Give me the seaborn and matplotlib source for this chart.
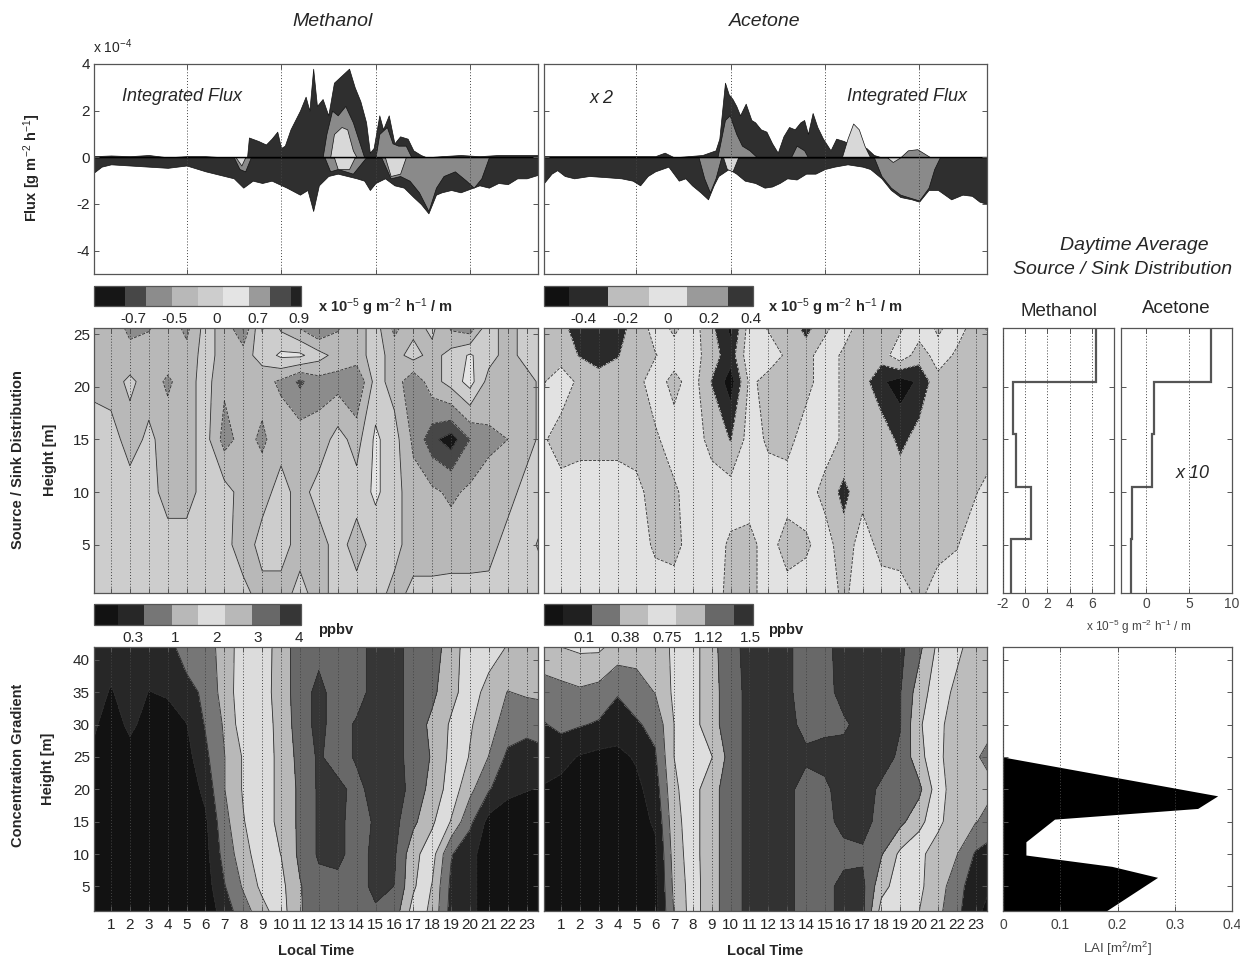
import numpy as np
import matplotlib
matplotlib.use("Agg")
import matplotlib.pyplot as plt
import seaborn as sns

# ---------------------------------------------------------------- data
hours = list(range(25))                      # grid columns, local time [h]
hour_ticks = list(range(1, 24))
conc_heights = [1, 5, 10, 15, 20, 25, 30, 35, 42]     # concentration grid rows [m]
src_heights = [0, 5, 10, 15, 20.5, 23, 26]            # source/sink grid rows [m]

# methanol concentration [ppbv], rows = conc_heights, cols = hours
meoh_conc = [
    [-0.8, -0.8, -0.8, -0.8, -0.8, -0.8, -0.8, -0.1, 0.6, 1.3, 1.9, 2.8, 3.2, 3.2, 3.2, 3.4, 3.2, 1.9, 1.4, 0.0, -0.2, -0.7, -0.8, -0.8, -0.8],
    [-0.8, -0.8, -0.8, -0.8, -0.8, -0.8, -0.7, 0.2, 1.0, 1.7, 2.0, 2.8, 3.3, 3.3, 3.2, 3.7, 3.5, 2.3, 1.5, 0.1, -0.2, -0.7, -0.8, -0.8, -0.8],
    [-0.8, -0.8, -0.8, -0.8, -0.8, -0.8, -0.6, 0.5, 1.3, 1.9, 2.2, 3.0, 3.6, 3.7, 3.2, 3.7, 3.6, 2.4, 1.8, 0.3, -0.2, -0.7, -0.8, -0.8, -0.8],
    [-0.8, -0.8, -0.8, -0.8, -0.8, -0.8, -0.5, 0.7, 1.5, 2.0, 2.3, 3.0, 3.6, 3.7, 3.2, 3.6, 3.7, 3.0, 2.3, 1.5, 0.4, -0.6, -0.8, -0.8, -0.8],
    [-0.8, -0.8, -0.8, -0.8, -0.8, -0.8, -0.2, 0.9, 1.6, 2.0, 2.3, 3.0, 3.6, 3.7, 3.3, 3.8, 3.8, 3.3, 2.6, 1.9, 1.1, 0.3, -0.2, -0.35, -0.45],
    [-0.5, -0.8, -0.7, -0.8, -0.8, -0.6, 0.1, 0.9, 1.6, 2.0, 2.3, 3.1, 3.6, 3.2, 3.6, 3.8, 3.8, 3.2, 2.8, 2.0, 1.5, 0.9, 0.1, -0.1, 0.0],
    [-0.2, -0.8, -0.2, -0.7, -0.7, -0.4, 0.3, 1.0, 1.9, 1.9, 2.4, 3.2, 3.7, 3.2, 3.6, 3.8, 3.8, 3.2, 2.7, 2.1, 1.6, 1.2, 0.6, 0.5, 0.7],
    [0.0, -0.45, 0.0, -0.4, -0.3, 0.0, 0.4, 1.2, 1.9, 1.9, 2.5, 3.2, 3.7, 3.2, 3.2, 3.8, 3.8, 3.2, 3.0, 2.4, 1.85, 1.3, 0.9, 1.0, 1.0],
    [0.0, 0.0, 0.0, 0.0, 0.0, 0.6, 0.6, 1.2, 1.85, 1.85, 2.5, 3.2, 3.3, 3.2, 3.2, 3.8, 3.8, 3.2, 3.2, 2.5, 1.85, 1.85, 1.5, 1.2, 1.2],
]
# acetone concentration [ppbv]
acet_conc = [
    [-0.32, -0.32, -0.32, -0.32, -0.32, -0.32, -0.32, 0.3, 0.68, 1.0, 1.2, 1.43, 1.43, 1.43, 1.2, 1.25, 1.43, 1.4, 0.7, 0.68, 0.55, 0.35, 0.1, -0.2, -0.3],
    [-0.32, -0.32, -0.32, -0.32, -0.32, -0.32, -0.3, 0.35, 0.68, 1.0, 1.2, 1.43, 1.43, 1.43, 1.2, 1.25, 1.43, 1.4, 0.9, 0.68, 0.6, 0.4, 0.15, -0.15, -0.25],
    [-0.32, -0.32, -0.32, -0.32, -0.32, -0.32, -0.28, 0.4, 0.7, 1.0, 1.2, 1.43, 1.43, 1.43, 1.2, 1.3, 1.25, 1.3, 1.1, 0.75, 0.6, 0.45, 0.3, 0.0, -0.15],
    [-0.32, -0.32, -0.32, -0.32, -0.32, -0.32, -0.2, 0.45, 0.7, 1.0, 1.2, 1.43, 1.43, 1.43, 1.2, 1.25, 1.43, 1.43, 1.25, 1.15, 0.9, 0.6, 0.42, 0.3, 0.2],
    [-0.25, -0.3, -0.32, -0.32, -0.32, -0.3, -0.1, 0.5, 0.7, 1.0, 1.2, 1.43, 1.43, 1.43, 1.2, 1.3, 1.43, 1.43, 1.3, 1.2, 1.15, 0.65, 0.42, 0.35, 0.3],
    [-0.1, -0.15, -0.25, -0.3, -0.3, -0.2, 0.0, 0.55, 0.7, 0.8, 1.2, 1.43, 1.43, 1.43, 1.4, 1.4, 1.43, 1.43, 1.43, 1.3, 0.9, 0.6, 0.42, 0.3, 0.25],
    [0.0, 0.1, 0.05, 0.0, -0.1, 0.0, 0.1, 0.55, 0.7, 1.0, 1.2, 1.43, 1.43, 1.43, 1.25, 1.3, 1.3, 1.43, 1.43, 1.35, 0.85, 0.6, 0.45, 0.35, 0.3],
    [0.2, 0.2, 0.25, 0.2, 0.05, 0.15, 0.3, 0.6, 0.7, 1.0, 1.2, 1.43, 1.43, 1.4, 1.2, 1.25, 1.43, 1.43, 1.43, 1.35, 0.95, 0.65, 0.5, 0.42, 0.4],
    [0.42, 0.55, 0.6, 0.6, 0.45, 0.42, 0.4, 0.6, 0.7, 1.0, 1.25, 1.43, 1.43, 1.4, 1.2, 1.28, 1.43, 1.43, 1.43, 1.4, 1.15, 0.75, 0.6, 0.45, 0.42],
]
# methanol source / sink [x1e-5 g m-2 h-1 / m], rows = src_heights
meoh_src = [
    [0.1, 0.1, 0.1, 0.1, 0.1, 0.1, 0.1, 0.1, 0.1, -0.1, -0.1, 0.1, -0.1, 0.1, 0.1, 0.1, -0.1, 0.1, 0.1, 0.1, 0.1, 0.1, 0.1, 0.1, 0.1],
    [0.1, 0.1, 0.1, 0.1, 0.1, 0.1, 0.1, 0.1, -0.15, 0.1, 0.1, -0.1, -0.1, 0.1, -0.1, 0.1, 0.1, -0.15, -0.15, -0.12, -0.12, -0.1, 0.1, 0.1, -0.1],
    [0.1, 0.1, 0.1, 0.1, -0.1, -0.1, 0.1, 0.1, -0.1, -0.1, 0.1, -0.1, 0.1, 0.1, 0.1, 0.3, 0.1, -0.15, -0.2, -0.3, -0.2, -0.15, -0.1, 0.1, 0.1],
    [0.1, 0.1, -0.1, 0.05, -0.1, -0.1, 0.1, -0.35, -0.15, -0.3, -0.1, -0.1, -0.15, 0.1, -0.1, 0.3, 0.1, -0.3, -0.65, -0.8, -0.5, -0.3, -0.25, -0.1, 0.1],
    [-0.05, -0.1, 0.05, -0.1, -0.3, -0.1, 0.1, -0.2, -0.1, -0.15, -0.3, -0.55, -0.35, -0.35, -0.5, 0.1, -0.1, -0.45, -0.1, 0.1, 0.35, -0.1, -0.2, -0.1, 0.1],
    [-0.1, -0.1, -0.15, -0.1, -0.1, -0.15, 0.1, -0.1, -0.1, 0.1, 0.3, 0.3, 0.1, -0.1, -0.1, 0.1, -0.1, 0.1, -0.1, 0.1, 0.28, 0.1, -0.1, 0.1, 0.1],
    [-0.1, -0.1, -0.35, -0.3, -0.1, -0.35, 0.1, -0.1, -0.6, 0.3, -0.1, -0.35, -0.6, -0.3, -0.1, 0.1, -0.35, -0.1, 0.1, -0.35, -0.5, 0.1, -0.1, 0.1, 0.1],
]
# acetone source / sink [x1e-5 g m-2 h-1 / m]
acet_src = [
    [0, 0, 0, 0, 0, 0, 0, 0, 0, 0, -0.15, -0.15, 0, 0, 0, 0, -0.12, 0, 0, 0, -0.12, 0, 0, 0, 0],
    [0, 0, 0, 0, 0, 0, -0.12, -0.15, 0, 0, -0.12, -0.15, 0, -0.18, -0.12, 0, -0.2, 0, -0.15, -0.18, -0.2, -0.15, -0.1, 0, 0],
    [0, 0, 0, 0, 0, -0.05, -0.15, -0.12, 0, 0, 0, 0, 0, 0, 0, -0.15, -0.35, -0.15, -0.2, -0.15, -0.2, -0.15, -0.2, -0.1, 0],
    [-0.05, -0.2, -0.15, -0.15, -0.15, -0.15, -0.12, 0, 0, -0.15, -0.3, 0, -0.12, -0.15, 0, 0, -0.12, -0.25, -0.15, -0.35, -0.2, -0.15, -0.15, -0.12, -0.15],
    [-0.12, 0.05, -0.15, -0.2, -0.2, -0.15, 0, -0.15, 0, -0.3, -0.58, -0.05, -0.15, -0.12, -0.15, 0, -0.12, -0.2, -0.45, -0.57, -0.45, -0.15, -0.15, -0.12, -0.35],
    [-0.15, -0.2, -0.3, -0.38, -0.3, -0.2, -0.1, 0, 0, -0.2, -0.4, 0.05, 0, -0.12, -0.15, 0, -0.12, -0.12, -0.2, 0.05, -0.2, 0, -0.12, -0.1, -0.12],
    [-0.15, -0.2, -0.5, -0.5, -0.4, -0.2, 0, -0.15, 0, -0.25, -0.55, 0, -0.12, -0.15, -0.4, -0.15, 0, -0.15, -0.12, -0.15, 0.05, -0.15, 0, -0.15, 0],
]

# integrated flux layers [x1e-4 g m-2 h-1], (local time, flux)
meoh_pos_dark = [(0.1, 0.05), (1, 0.08), (2, 0.05), (3, 0.1), (4, 0.0), (5, 0.05), (6, 0.05), (7, 0.0), (8.2, 0.0),
                 (8.3, 0.85), (8.8, 0.7), (9.2, 0.55), (9.5, 0.8), (9.8, 1.1), (10.0, 0.4), (10.2, 0.5), (10.5, 1.2),
                 (11.0, 2.0), (11.3, 2.6), (11.5, 2.0), (11.7, 3.8), (11.9, 2.2), (12.2, 2.5), (12.5, 1.8), (12.8, 3.2),
                 (13.2, 3.5), (13.6, 3.8), (13.9, 3.0), (14.2, 2.4), (14.5, 1.5), (14.7, 0.2), (14.9, 0.4), (15.2, 1.8),
                 (15.4, 1.2), (15.7, 1.8), (16.0, 0.6), (16.3, 0.9), (16.7, 0.8), (17.0, 0.3), (17.4, 0.1), (17.7, 0.0),
                 (18.5, 0.05), (19.5, 0.1), (20.5, 0.05), (21.5, 0.1), (22.5, 0.1), (23.6, 0.1)]
meoh_neg_dark = [(0.1, -0.65), (0.5, -0.4), (1, -0.3), (2, -0.35), (3, -0.4), (4, -0.45), (5, -0.35), (6, -0.6),
                 (7, -0.8), (7.5, -0.9), (8.0, -1.3), (8.5, -1.0), (9.0, -1.1), (9.5, -1.0), (10.3, -1.3), (11.0, -1.6),
                 (11.4, -1.4), (11.7, -2.3), (12.0, -1.2), (12.5, -0.8), (13.0, -0.7), (13.5, -0.8), (14.0, -0.9),
                 (14.4, -1.0), (14.7, -1.4), (15.0, -1.1), (15.5, -0.9), (16.0, -1.2), (16.5, -1.3), (17.0, -1.7),
                 (17.4, -2.0), (17.8, -2.4), (18.2, -1.6), (18.5, -1.5), (19.0, -1.4), (19.5, -1.5), (20.0, -1.35),
                 (20.5, -1.2), (21.0, -1.3), (21.5, -1.1), (22.0, -1.15), (22.5, -0.9), (23.0, -0.9), (23.6, -0.75)]
meoh_pos_gray = [(12.2, 0), (12.4, 1.0), (12.7, 2.0), (13.0, 1.8), (13.4, 2.2), (13.8, 1.5), (14.2, 0.5), (14.4, 0),
                 (15.0, 0), (15.2, 1.0), (15.6, 1.3), (15.9, 0.6), (16.2, 0.5), (16.6, 0.5), (16.9, 0)]
meoh_pos_light = [(12.6, 0), (12.8, 1.0), (13.2, 1.3), (13.5, 1.2), (13.8, 0.3), (14.0, 0)]
meoh_neg_gray = [(7.5, 0), (7.8, -0.5), (8.1, -0.6), (8.4, 0), (12.3, 0), (12.6, -0.6), (13.0, -0.5), (13.8, -0.7),
                 (14.2, -0.3), (14.5, 0), (15.3, 0), (15.8, -0.9), (16.3, -0.8), (16.8, -1.0), (17.3, -1.5),
                 (17.8, -2.3), (18.2, -1.3), (18.6, -0.8), (19.2, -0.6), (19.8, -1.0), (20.2, -1.3), (20.6, -0.9), (21.0, 0)]
meoh_neg_light = [(7.6, 0), (7.9, -0.35), (8.1, 0), (12.8, 0), (13.0, -0.5), (13.6, -0.5), (13.9, 0),
                  (15.5, 0), (15.8, -0.8), (16.3, -0.7), (16.6, 0)]

acet_pos_dark = [(0.1, 0.05), (3, 0.05), (6.0, 0.05), (6.5, 0.2), (7, 0.0), (8.5, 0.1), (9.2, 0.3), (9.4, 0.8),
                 (9.55, 2.0), (9.7, 3.2), (9.9, 2.7), (10.1, 2.5), (10.3, 2.2), (10.5, 1.8), (10.8, 2.3), (11.1, 1.6),
                 (11.3, 1.5), (11.6, 1.2), (11.9, 1.1), (12.2, 0.6), (12.5, 0.2), (12.8, 0.9), (13.1, 1.3), (13.4, 1.2),
                 (13.7, 1.5), (13.9, 1.6), (14.1, 1.0), (14.35, 1.9), (14.6, 1.3), (14.9, 0.8), (15.3, 0.3), (15.6, 0.8),
                 (16.0, 0.7), (16.5, 0.5), (17.2, 0.4), (17.6, 0.1), (18.0, 0.0), (23.6, 0.0)]
acet_pos_gray = [(9.3, 0), (9.5, 0.8), (9.7, 1.6), (9.95, 1.8), (10.3, 1.0), (10.6, 0.5), (11.0, 0.3), (11.4, 0),
                 (13.2, 0), (13.5, 0.5), (13.9, 0.3), (14.1, 0), (19.0, 0), (19.4, 0.3), (19.9, 0.35), (20.3, 0.15), (20.6, 0)]
acet_pos_light = [(15.9, 0), (16.2, 0.8), (16.5, 1.45), (16.8, 1.2), (17.1, 0.5), (17.4, 0)]
acet_neg_dark = [(0.1, -1.1), (0.5, -0.7), (0.8, -0.55), (1.2, -0.8), (1.7, -0.9), (2.5, -0.8), (3.4, -0.85),
                 (4.2, -0.9), (4.8, -1.0), (5.2, -1.2), (5.6, -0.8), (6.0, -0.6), (6.7, -0.4), (7.25, -1.0), (7.6, -0.9),
                 (7.95, -1.2), (8.4, -1.5), (8.8, -1.8), (9.1, -1.2), (9.35, -0.8), (9.9, -0.5), (10.3, -0.7),
                 (10.75, -1.0), (11.3, -1.1), (11.8, -1.3), (12.2, -1.25), (12.6, -1.1), (13.0, -0.9), (13.5, -0.95),
                 (14.0, -0.7), (14.5, -0.7), (15.0, -0.5), (15.5, -0.4), (16.2, -0.3), (17.0, -0.4), (17.4, -0.5),
                 (18.0, -0.9), (18.5, -1.4), (19.0, -1.7), (19.6, -1.8), (20.0, -1.9), (20.5, -1.4), (21.0, -1.4),
                 (21.7, -1.8), (22.3, -1.6), (22.8, -1.65), (23.2, -1.9), (23.6, -2.0)]
acet_neg_gray = [(8.3, 0), (8.6, -0.9), (8.9, -1.5), (9.2, -0.9), (9.5, 0), (17.6, 0), (18.0, -0.8), (18.5, -1.3),
                 (19.0, -1.6), (19.6, -1.75), (20.0, -1.85), (20.5, -1.3), (20.8, -0.5), (21.1, 0)]
acet_neg_light = [(9.6, 0), (9.8, -0.5), (10.1, -0.6), (10.4, 0), (18.3, 0), (18.6, -0.2), (19.0, 0)]

# daytime average source / sink profiles (layer edges in m, values x1e-5)
profile_edges = [0.4, 5.5, 10.5, 15.5, 20.5, 25.6]
meoh_profile = [-1.25, 0.55, -0.85, -1.07, 6.4]
acet_profile = [-1.76, -1.67, 0.7, 0.9, 7.5]

# leaf area index profile
lai_heights = [1.2, 6.4, 8.1, 9.85, 11.9, 15.4, 17.05, 19.0, 25.0]
lai_values = [0.18, 0.27, 0.19, 0.04, 0.04, 0.09, 0.34, 0.375, 0.0]

# contour levels / greys / colour-bar labels
meoh_conc_levels = [-0.95, -0.38, 0.25, 0.92, 1.54, 2.19, 2.85, 3.51, 4.02]
meoh_conc_colors = ['#121212', '#272727', '#767676', '#b8b8b8', '#dcdcdc', '#b8b8b8', '#686868', '#363636']
meoh_conc_labels = ['0.3', '1', '2', '3', '4']
acet_conc_levels = [-0.41, -0.23, 0.03, 0.29, 0.55, 0.81, 1.08, 1.34, 1.52]
acet_conc_colors = ['#121212', '#202020', '#747474', '#bcbcbc', '#dedede', '#bcbcbc', '#686868', '#323232']
acet_conc_labels = ['0.1', '0.38', '0.75', '1.12', '1.5']
meoh_src_levels = [-1.0, -0.7, -0.5, -0.25, 0, 0.25, 0.5, 0.7, 0.9, 1.0]
meoh_src_colors = ['#161616', '#474747', '#8c8c8c', '#b8b8b8', '#cdcdcd', '#e4e4e4', '#9a9a9a', '#4a4a4a', '#222222']
meoh_src_labels = ['-0.7', '-0.5', '0', '0.7', '0.9']
acet_src_levels = [-0.6, -0.48, -0.29, -0.09, 0.1, 0.3, 0.42]
acet_src_colors = ['#111111', '#2a2a2a', '#bdbdbd', '#e2e2e2', '#9a9a9a', '#363636']
acet_src_labels = ['-0.4', '-0.2', '0', '0.2', '0.4']
# the colour-bar annotations sit at evenly spaced points along each bar, as in the figure
label_fractions = [0.19, 0.39, 0.59, 0.79, 0.99]

# ---------------------------------------------------------------- style
sns.set_theme(style='ticks')
plt.rcParams['font.family'] = ['Liberation Sans', 'DejaVu Sans']
plt.rcParams['mathtext.fontset'] = 'custom'
plt.rcParams['mathtext.rm'] = 'Liberation Sans'
plt.rcParams['mathtext.it'] = 'Liberation Sans:italic'
plt.rcParams['mathtext.bf'] = 'Liberation Sans:bold'
plt.rcParams['axes.edgecolor'] = '#555555'
plt.rcParams['axes.linewidth'] = 0.9
plt.rcParams['axes.unicode_minus'] = False

W, H = 1240, 958
fig = plt.figure(figsize=(W / 100, H / 100), dpi=100)
fig.patch.set_facecolor('white')


def box(x0, y0, x1, y1):
    return [x0 / W, 1 - y1 / H, (x1 - x0) / W, (y1 - y0) / H]


def frame(ax, labelsize=11, color='#555555'):
    ax.tick_params(direction='in', top=True, right=True, length=3.5, width=0.7,
                   color=color, labelsize=labelsize, pad=3)
    for s in ax.spines.values():
        s.set_color(color)
        s.set_linewidth(0.9)


def dotted_grid(ax):
    ax.grid(True, axis='x', linestyle=(0, (1, 2)), color='#444444', linewidth=0.7)
    ax.grid(False, axis='y')
    ax.set_axisbelow(False)


def layer(ax, pts, color):
    t, v = zip(*pts)
    ax.fill_between(t, 0, v, facecolor=color, edgecolor='#111111', linewidth=0.5)


def flux_panel(box_px, layers, show_labels):
    ax = fig.add_axes(box(*box_px))
    for pts, col in layers:
        layer(ax, pts, col)
    ax.axhline(0, color='black', linewidth=1.0)
    ax.set_xlim(0.1, 23.6)
    ax.set_ylim(-5, 4)
    ax.set_xticks([5, 10, 15, 20])
    ax.set_yticks([-4, -2, 0, 2, 4])
    ax.tick_params(labelbottom=False, labelleft=show_labels)
    frame(ax)
    dotted_grid(ax)
    return ax


def field_panel(box_px, data, heights, levels, colors, ylim, yticks, bottom_labels, left_labels):
    ax = fig.add_axes(box(*box_px))
    z = np.array(data, dtype=float)
    cs = ax.contourf(hours, heights, z, levels=levels, colors=colors)
    ax.contour(hours, heights, z, levels=levels[1:-1], colors='#2e2e2e', linewidths=0.6)
    ax.set_xlim(0.1, 23.6)
    ax.set_ylim(*ylim)
    ax.set_xticks(hour_ticks)
    ax.set_yticks(yticks)
    ax.tick_params(labelbottom=bottom_labels, labelleft=left_labels)
    frame(ax)
    dotted_grid(ax)
    return ax, cs


def colorbar(cs, box_px, levels, labels):
    cax = fig.add_axes(box(*box_px))
    cb = fig.colorbar(cs, cax=cax, orientation='horizontal', spacing='proportional')
    lo, hi = levels[0], levels[-1]
    cb.set_ticks([lo + f * (hi - lo) for f in label_fractions])
    cb.set_ticklabels(labels)
    cb.ax.tick_params(length=0, labelsize=11, pad=4)
    cb.outline.set_edgecolor('#555555')
    cb.outline.set_linewidth(0.9)
    return cb


# ---------------------------------------------------------------- top row: integrated flux
ax_fm = flux_panel((94, 64, 538, 274),
                   [(meoh_pos_dark, '#2f2f2f'), (meoh_neg_dark, '#2f2f2f'),
                    (meoh_pos_gray, '#8a8a8a'), (meoh_neg_gray, '#8a8a8a'),
                    (meoh_pos_light, '#d8d8d8'), (meoh_neg_light, '#d8d8d8')], True)
ax_fm.text(0.063, 0.845, 'Integrated Flux', transform=ax_fm.transAxes, fontsize=13,
           style='italic', ha='left', va='center')
ax_fa = flux_panel((544, 64, 987, 274),
                   [(acet_pos_dark, '#2f2f2f'), (acet_neg_dark, '#2f2f2f'),
                    (acet_pos_gray, '#8a8a8a'), (acet_neg_gray, '#8a8a8a'),
                    (acet_pos_light, '#d8d8d8'), (acet_neg_light, '#d8d8d8')], False)
ax_fa.text(0.955, 0.845, 'Integrated Flux', transform=ax_fa.transAxes, fontsize=13,
           style='italic', ha='right', va='center')
ax_fa.text(0.13, 0.835, 'x 2', transform=ax_fa.transAxes, fontsize=13,
           style='italic', ha='center', va='center')

# ---------------------------------------------------------------- middle row: source / sink
ax_sm, cs_sm = field_panel((94, 328, 538, 593), meoh_src, src_heights, meoh_src_levels,
                           meoh_src_colors, (0.4, 25.6), [5, 10, 15, 20, 25], False, True)
ax_sa, cs_sa = field_panel((544, 328, 987, 593), acet_src, src_heights, acet_src_levels,
                           acet_src_colors, (0.4, 25.6), [5, 10, 15, 20, 25], False, False)
colorbar(cs_sm, (94, 286, 301, 306), meoh_src_levels, meoh_src_labels)
colorbar(cs_sa, (544, 286, 753, 306), acet_src_levels, acet_src_labels)

# ---------------------------------------------------------------- bottom row: concentration
ax_cm, cs_cm = field_panel((94, 647, 538, 911), meoh_conc, conc_heights, meoh_conc_levels,
                           meoh_conc_colors, (1.2, 42), [5, 10, 15, 20, 25, 30, 35, 40], True, True)
ax_ca, cs_ca = field_panel((544, 647, 987, 911), acet_conc, conc_heights, acet_conc_levels,
                           acet_conc_colors, (1.2, 42), [5, 10, 15, 20, 25, 30, 35, 40], True, False)
colorbar(cs_cm, (94, 604, 301, 625), meoh_conc_levels, meoh_conc_labels)
colorbar(cs_ca, (544, 604, 753, 625), acet_conc_levels, acet_conc_labels)
for ax in (ax_cm, ax_ca):
    ax.set_xticklabels([str(h) for h in hour_ticks])
    ax.tick_params(axis='x', pad=5)
    ax.set_xlabel('Local Time', fontsize=10.5, fontweight='bold', labelpad=9)

# ---------------------------------------------------------------- right column: profiles
ax_pm = fig.add_axes(box(1003, 328, 1114, 593))
ax_pm.stairs(meoh_profile, profile_edges, orientation='horizontal', baseline=None,
             color='#555555', linewidth=1.6)
ax_pm.set_xlim(-2, 8)
ax_pm.set_xticks([-2, 0, 2, 4, 6])
ax_pm.set_ylim(0.4, 25.6)
ax_pm.set_yticks([5, 10, 15, 20])
ax_pm.tick_params(labelleft=False)
frame(ax_pm, labelsize=10)
ax_pm.tick_params(labelcolor='#444444')
dotted_grid(ax_pm)
ax_pm.set_title('Methanol', fontsize=13.5, pad=9)

ax_pa = fig.add_axes(box(1121, 328, 1232, 593))
ax_pa.stairs(acet_profile, profile_edges, orientation='horizontal', baseline=None,
             color='#555555', linewidth=1.6)
ax_pa.set_xlim(-2.95, 10)
ax_pa.set_xticks([0, 5, 10])
ax_pa.set_ylim(0.4, 25.6)
ax_pa.set_yticks([5, 10, 15, 20])
ax_pa.tick_params(labelleft=False)
frame(ax_pa, labelsize=10)
ax_pa.tick_params(labelcolor='#444444')
dotted_grid(ax_pa)
ax_pa.set_title('Acetone', fontsize=13.5, pad=11)
ax_pa.text(0.65, 0.45, 'x 10', transform=ax_pa.transAxes, fontsize=13, style='italic',
           ha='center', va='center')

ax_lai = fig.add_axes(box(1003, 647, 1232, 911))
ax_lai.fill_betweenx(lai_heights, 0, lai_values, color='black', linewidth=0)
ax_lai.set_xlim(0, 0.4)
ax_lai.set_xticks([0, 0.1, 0.2, 0.3, 0.4])
ax_lai.set_xticklabels(['0', '0.1', '0.2', '0.3', '0.4'])
ax_lai.set_ylim(1.2, 42)
ax_lai.set_yticks([5, 10, 15, 20, 25, 30, 35, 40])
ax_lai.tick_params(labelleft=False)
frame(ax_lai, labelsize=10)
ax_lai.tick_params(labelcolor='#444444', axis='x', pad=5)
dotted_grid(ax_lai)
ax_lai.set_xlabel(r'LAI [m$^2$/m$^2$]', fontsize=9.5, color='#444444', labelpad=6)

# ---------------------------------------------------------------- figure texts
fig.text(333 / W, 1 - 22 / H, 'Methanol', fontsize=14, style='italic', ha='center', va='center')
fig.text(765 / W, 1 - 22 / H, 'Acetone', fontsize=14, style='italic', ha='center', va='center')
fig.text(93 / W, 1 - 47 / H, r'x 10$^{-4}$', fontsize=10, ha='left', va='center')
fig.text(32 / W, 1 - 168 / H, r'Flux [g m$^{-2}$ h$^{-1}$]', fontsize=10.5, fontweight='bold',
         rotation=90, ha='center', va='center')
fig.text(18 / W, 1 - 460 / H, 'Source / Sink Distribution', fontsize=10.5, fontweight='bold',
         rotation=90, ha='center', va='center')
fig.text(50 / W, 1 - 460 / H, 'Height [m]', fontsize=10.5, fontweight='bold',
         rotation=90, ha='center', va='center')
fig.text(18 / W, 1 - 765 / H, 'Concentration Gradient', fontsize=10.5, fontweight='bold',
         rotation=90, ha='center', va='center')
fig.text(48 / W, 1 - 769 / H, 'Height [m]', fontsize=10.5, fontweight='bold',
         rotation=90, ha='center', va='center')
unit = r'x 10$^{-5}$ g m$^{-2}$ h$^{-1}$ / m'
fig.text(318 / W, 1 - 307 / H, unit, fontsize=10.5, fontweight='bold', ha='left', va='center')
fig.text(768 / W, 1 - 307 / H, unit, fontsize=10.5, fontweight='bold', ha='left', va='center')
fig.text(318 / W, 1 - 630 / H, 'ppbv', fontsize=10.5, fontweight='bold', ha='left', va='center')
fig.text(768 / W, 1 - 630 / H, 'ppbv', fontsize=10.5, fontweight='bold', ha='left', va='center')
fig.text(1134 / W, 1 - 245 / H, 'Daytime Average', fontsize=14, style='italic', ha='center', va='center')
fig.text(1123 / W, 1 - 269 / H, 'Source / Sink Distribution', fontsize=14, style='italic',
         ha='center', va='center')
fig.text(1139 / W, 1 - 627 / H, unit, fontsize=8.5, color='#444444', ha='center', va='center')

fig.savefig('out.png', dpi=100)
